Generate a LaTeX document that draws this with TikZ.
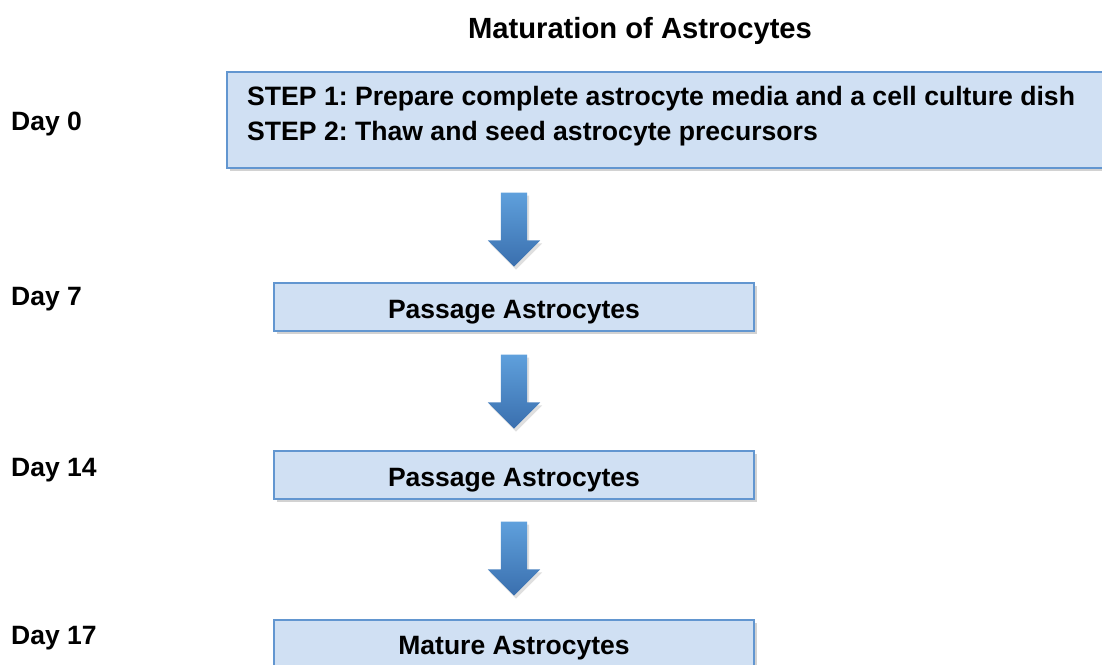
\documentclass[tikz,border=0pt]{standalone}
\usepackage{fontspec}
\setmainfont{Liberation Sans}
\usepackage{tikz}
\usetikzlibrary{shapes.arrows, shadows, positioning}
\frenchspacing

\definecolor{boxfill}{HTML}{D0E0F3}
\definecolor{boxline}{HTML}{6296D0}
\definecolor{arrowtop}{HTML}{5FA0DC}
\definecolor{arrowbot}{HTML}{3A6FAE}

\begin{document}
\begin{tikzpicture}[
    x=1pt, y=-1pt,
    stepbox/.style={rectangle, draw=boxline, line width=2pt, fill=boxfill, minimum width=480pt, minimum height=48pt, inner sep=0pt, font=\fontsize{26.5pt}{31pt}\selectfont\bfseries, text height=22pt, text depth=0pt, drop shadow={opacity=0.35, shadow xshift=3pt, shadow yshift=-3pt}},
    steptext/.style={anchor=base west, inner sep=0pt, font=\fontsize{26.6pt}{31pt}\selectfont\bfseries},
    daylabel/.style={anchor=base west, inner sep=0pt, font=\fontsize{26.5pt}{31pt}\selectfont\bfseries},
    blockarrow/.style={single arrow, shape border rotate=270, draw=none, minimum height=74pt, minimum width=52pt, single arrow head extend=13pt, inner sep=13pt, top color=arrowtop, bottom color=arrowbot, drop shadow={opacity=0.25, shadow xshift=2pt, shadow yshift=-3pt}}
]
\useasboundingbox[fill=white] (0,0) rectangle (1102,664);

% Title
\node[anchor=base, inner sep=0pt, font=\fontsize{29.2pt}{34pt}\selectfont\bfseries] (title) at (640,38) {Maturation of Astrocytes};

% Day labels (left column)
\node[daylabel] (day0) at (11,130) {Day 0};
\node[daylabel] (day7) at (11,305) {Day 7};
\node[daylabel] (day14) at (11,476) {Day 14};
\node[daylabel] (day17) at (11,644) {Day 17};

% Steps (center column)
\node[stepbox, anchor=north west, minimum width=890pt, minimum height=96pt] (prep) at (226,71) {};
\node[steptext] (step1) at (247,105) {STEP 1: Prepare complete astrocyte media and a cell culture dish};
\node[steptext] (step2) at (247,140) {STEP 2: Thaw and seed astrocyte precursors};

\node[stepbox] (pass1) at (514,307) {Passage Astrocytes};
\node[stepbox] (pass2) at (514,475) {Passage Astrocytes};
\node[stepbox, anchor=north, minimum height=60pt] (mature) at (514,619) {};
\node[anchor=base, inner sep=0pt, font=\fontsize{26.5pt}{31pt}\selectfont\bfseries] (maturetext) at (514,654) {Mature Astrocytes};

% Block arrows
\node[blockarrow] (arr1) at (514,223) {};
\node[blockarrow] (arr2) at (514,385) {};
\node[blockarrow] (arr3) at (514,552) {};

\end{tikzpicture}
\end{document}
